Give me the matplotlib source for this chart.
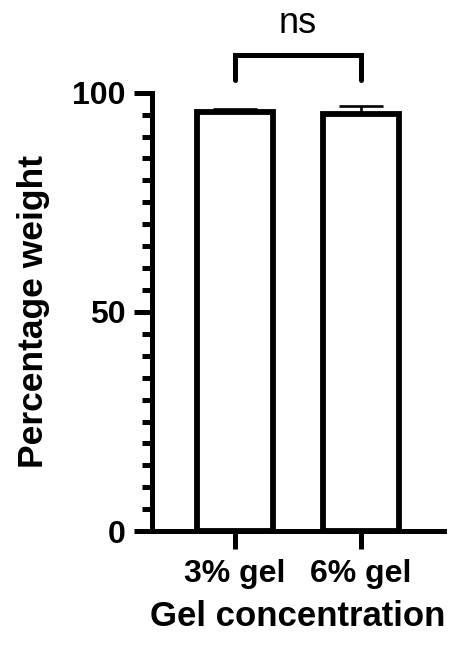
import matplotlib
matplotlib.use("Agg")
import matplotlib.pyplot as plt
import numpy as np

# data
groups = ["3% gel", "6% gel"]
means = [95.5, 95.2]
sds = [0.9, 1.8]
bracket_low = 102.8
bracket_high = 108.6
sig_label = "ns"

plt.rcParams['font.family'] = ['Liberation Sans', 'DejaVu Sans']

fig = plt.figure(figsize=(4.51, 6.47), dpi=100)
ax = fig.add_axes([0.337, 0.179, 0.6475, 0.6777])

x = np.arange(len(groups))
ax.bar(x, means, width=0.61, color='white', edgecolor='black', linewidth=4.2, zorder=2)
ax.errorbar(x, means, yerr=[np.zeros(len(sds)), sds], fmt='none', ecolor='black',
            elinewidth=1.9, capsize=15.5, capthick=1.9, zorder=3)

# significance bracket
ax.plot([x[0], x[0], x[1], x[1]], [bracket_low, bracket_high, bracket_high, bracket_low],
        color='black', lw=3.6, clip_on=False, solid_capstyle='round', solid_joinstyle='miter')
ax.text((x[0] + x[1]) / 2, bracket_high + 3.2, sig_label, ha='center', va='bottom',
        fontsize=26, color='black')

ax.set_xlim(-0.659, 1.659)
ax.set_ylim(0, 100)
ax.set_yticks([0, 50, 100])
ax.set_yticks(np.arange(0, 101, 5), minor=True)
ax.set_xticks(x)
ax.set_xticklabels(groups, fontsize=23, fontweight='bold')
for lab in ax.get_yticklabels():
    lab.set_fontsize(23)
    lab.set_fontweight('bold')

for side in ['top', 'right']:
    ax.spines[side].set_visible(False)
for side in ['left', 'bottom']:
    ax.spines[side].set_linewidth(3.6)
    ax.spines[side].set_capstyle('projecting')
    ax.spines[side].set_zorder(4)

ax.tick_params(axis='both', which='major', length=13, width=3.6, pad=6)
ax.tick_params(axis='x', which='major', pad=7)
ax.tick_params(axis='y', which='minor', length=7, width=3.6)
ax.tick_params(axis='x', which='minor', bottom=False)

ax.set_ylabel("Percentage weight", fontsize=25.5, fontweight='bold', labelpad=16)
ax.set_xlabel("Gel concentration", fontsize=25, fontweight='bold', labelpad=8)

fig.savefig("out.png", dpi=100)
